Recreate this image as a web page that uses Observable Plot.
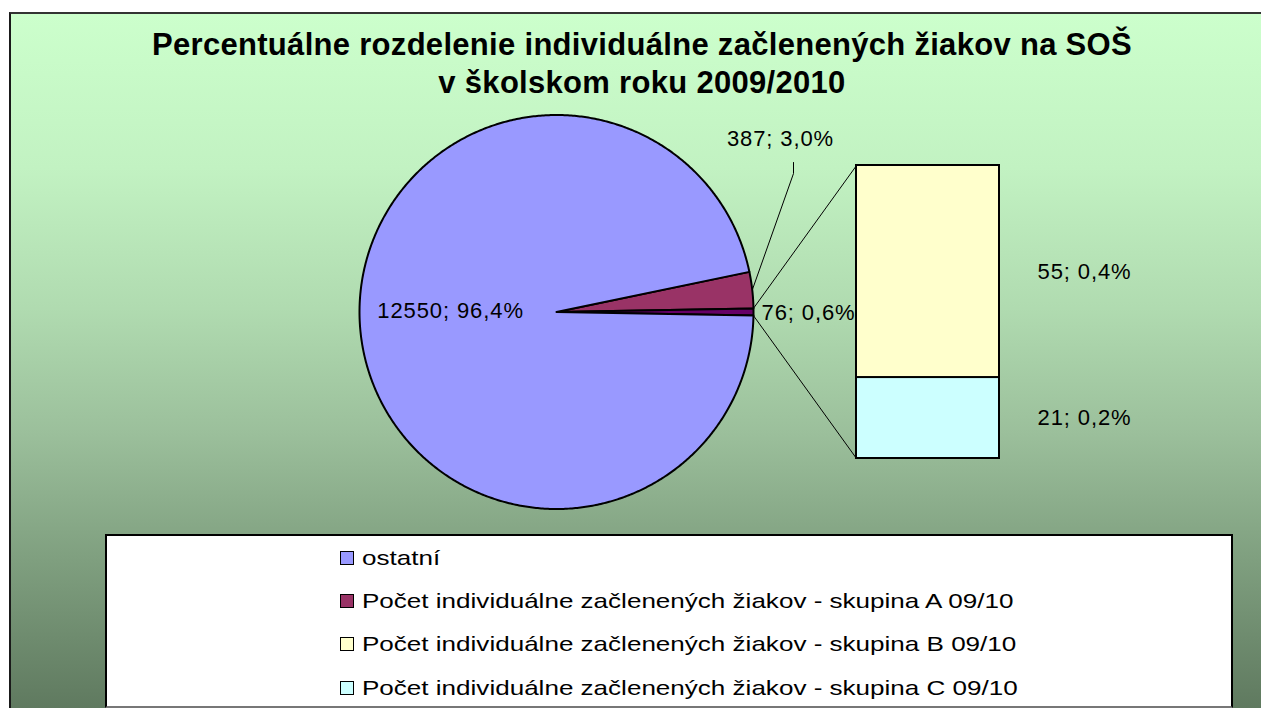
<!DOCTYPE html>
<html>
<head>
<meta charset="utf-8">
<script src="https://cdn.jsdelivr.net/npm/d3@7"></script>
<script src="https://cdn.jsdelivr.net/npm/@observablehq/plot@0.6"></script>
<style>
  html, body { margin: 0; padding: 0; background: #fff; }
  #page { position: relative; width: 1261px; height: 708px; overflow: hidden; background: #fff;
          font-family: "Liberation Sans", Arial, sans-serif; }
  #bg { position: absolute; left: 9px; top: 12px; width: 1260px; height: 700px;
        border-left: 2px solid #1a1a1a; border-top: 2px solid #333;
        background: linear-gradient(to bottom, #ccffcc 0%, #c2f2c2 22%, #b0dbb0 42%, #9bbf9b 60%, #7f9f7f 78%, #5e785e 100%); }
  #title { position: absolute; left: 0; top: 26px; width: 1284px; text-align: center;
           font-weight: bold; font-size: 31px; line-height: 38px; letter-spacing: 0.3px; color: #000; }
  .layer { position: absolute; left: 0; top: 0; }
  #legend { position: absolute; left: 105px; top: 534px; width: 1124px; height: 170px;
            background: #fff; border: 2px solid #000; border-bottom-color: #777; }
  .row { position: absolute; left: 340px; height: 26px; display: flex; align-items: center; white-space: nowrap; }
  .sw { width: 12px; height: 12px; border: 1.5px solid #000; flex: none; }
  .lt { font-size: 21px; margin-left: 8px; transform: scaleX(1.24); transform-origin: left center; color: #000; }
</style>
</head>
<body>
<div id="page">
  <div id="bg"></div>
  <div id="title"></div>
  <div id="pie" class="layer"></div>
  <div id="bar" class="layer"></div>
  <div id="legendWrap"></div>
</div>
<script>
// ---- data ----
const categories = [
  "ostatní",
  "Počet individuálne začlenených žiakov - skupina A 09/10",
  "Počet individuálne začlenených žiakov - skupina B 09/10",
  "Počet individuálne začlenených žiakov - skupina C 09/10"
];
const values = [12550, 387, 55, 21];
const colors = ["#9999FF", "#993366", "#FFFFCC", "#CCFFFF"];
const otherColor = "#660066";
const titleLines = [
  "Percentuálne rozdelenie individuálne začlenených žiakov na SOŠ",
  "v školskom roku 2009/2010"
];

// ---- layout ----
const W = 1261, H = 708;
const CX = 556, CY = 311.5, R = 197;
const barLeft = 856, barRight = 999, barTop = 165, barBottom = 458;
const legendRowsY = [558, 601, 644, 688];

const total = d3.sum(values);
const pct = v => (v / total * 100).toFixed(1).replace(".", ",") + "%";
const lab = v => `${v}; ${pct(v)}`;
const otherValue = values[2] + values[3];

// title
document.getElementById("title").innerHTML = titleLines.map(t => `<div>${t}</div>`).join("");

// pie (A, other, ostatní clockwise; "other" centred at 3 o'clock)
const pieRows = [
  {name: categories[1], value: values[1], color: colors[1]},
  {name: "other", value: otherValue, color: otherColor},
  {name: categories[0], value: values[0], color: colors[0]}
];
const aA = values[1] / total * 2 * Math.PI;
const aO = otherValue / total * 2 * Math.PI;
const start = Math.PI / 2 - aO / 2 - aA;
const arcs = d3.pie().sort(null).value(d => d.value).startAngle(start).endAngle(start + 2 * Math.PI)(pieRows);
const pt = (t, rr = R) => ({x: CX + rr * Math.sin(t), y: CY - rr * Math.cos(t)});
const center = {x: CX, y: CY};
const outline = arcs.flatMap(a => {
  const n = Math.max(2, Math.ceil((a.endAngle - a.startAngle) / (Math.PI / 360)));
  const pts = [center];
  for (let i = 0; i <= n; i++) pts.push(pt(a.startAngle + (a.endAngle - a.startAngle) * i / n));
  pts.push(center);
  return pts.map(p => ({x: p.x, y: p.y, name: a.data.name, color: a.data.color}));
});
const arcA = arcs[0], arcO = arcs[1], arcM = arcs[2];
const midA = (arcA.startAngle + arcA.endAngle) / 2;
const midM = (arcM.startAngle + arcM.endAngle) / 2;

const pA = pt(midA);
const labA = {x: 780, y: 138};
const leader = [pA, {x: labA.x + 13, y: labA.y + 35}, {x: labA.x + 13, y: labA.y + 24}];
const connectors = [
  {a: pt(arcO.startAngle), b: {x: barLeft, y: barTop}},
  {a: pt(arcO.endAngle), b: {x: barLeft, y: barBottom}}
];
const pM = pt(midM, R * 0.54);

const svgStyle = {background: "transparent", overflow: "visible", fontFamily: "'Liberation Sans', Arial, sans-serif", letterSpacing: "0.9px"};

const pie = Plot.plot({
  width: W, height: H, margin: 0,
  x: {type: "identity", axis: null},
  y: {type: "identity", axis: null},
  color: {type: "identity"},
  style: svgStyle,
  marks: [
    Plot.link(connectors, {x1: d => d.a.x, y1: d => d.a.y, x2: d => d.b.x, y2: d => d.b.y, stroke: "#000", strokeWidth: 1}),
    Plot.line(leader, {x: "x", y: "y", stroke: "#000", strokeWidth: 1}),
    Plot.line(outline, {x: "x", y: "y", z: "name", fill: "color", stroke: "#000", strokeWidth: 2, strokeLinejoin: "round"}),
    Plot.text([values[0]], {x: () => pM.x, y: () => pM.y - 11, text: d => lab(d), fontSize: 22, fill: "#000"}),
    Plot.text([values[1]], {x: () => labA.x, y: () => labA.y, text: d => lab(d), fontSize: 22, fill: "#000"}),
    Plot.text([otherValue], {x: () => CX + R + 8, y: () => CY + 1, text: d => lab(d), textAnchor: "start", fontSize: 22, fill: "#000"})
  ]
});
document.getElementById("pie").append(pie);

// bar of the "other" slice: C at bottom, B on top
const barRows = [
  {name: categories[3], value: values[3], y1: 0, y2: values[3], color: colors[3]},
  {name: categories[2], value: values[2], y1: values[3], y2: values[3] + values[2], color: colors[2]}
];
const bar = Plot.plot({
  width: W, height: H, margin: 0,
  x: {type: "identity", axis: null},
  y: {domain: [0, otherValue], range: [barBottom, barTop], axis: null},
  color: {type: "identity"},
  style: svgStyle,
  marks: [
    Plot.rect(barRows, {x1: () => barLeft, x2: () => barRight, y1: "y1", y2: "y2", fill: "color", stroke: "#000", strokeWidth: 2}),
    Plot.text(barRows, {x: () => barRight + 38, y: d => (d.y1 + d.y2) / 2, text: d => lab(d.value), textAnchor: "start", fontSize: 22, fill: "#000"})
  ]
});
document.getElementById("bar").append(bar);

// legend
const wrap = document.getElementById("legendWrap");
wrap.innerHTML = `<div id="legend"></div>` + categories.map((c, i) =>
  `<div class="row" style="top:${legendRowsY[i] - 13}px"><div class="sw" style="background:${colors[i]}"></div><span class="lt">${c}</span></div>`
).join("");
</script>
</body>
</html>
